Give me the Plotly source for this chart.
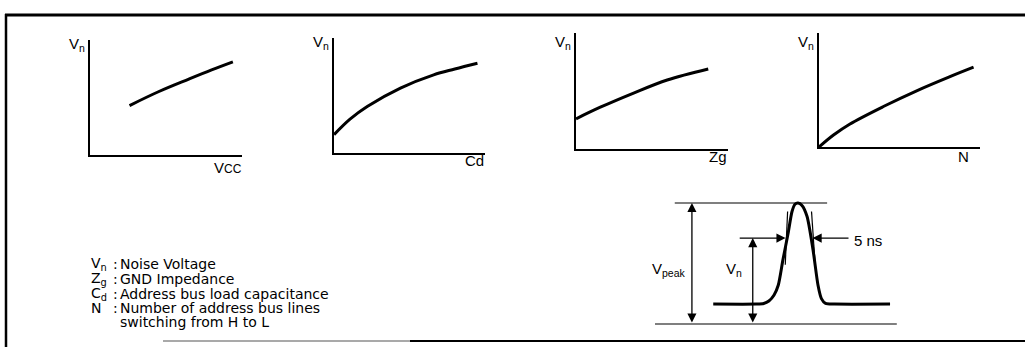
import plotly.graph_objects as go

W, H = 1025, 347

# ---- data ----
# panel 1: Vn vs Vcc
vcc_x = [2.6, 4.5, 6.5, 8.0, 9.4]
vcc_y = [4.3, 5.5, 6.6, 7.4, 8.1]
# panel 2: Vn vs Cd
cd_x = [0.0, 1.06, 2.2, 4.4, 6.6, 8.0, 9.5]
cd_y = [1.6, 2.95, 4.05, 5.65, 6.8, 7.3, 7.8]
# panel 3: Vn vs Zg
zg_x = [0.0, 1.6, 3.75, 6.0, 8.7]
zg_y = [2.6, 3.6, 4.8, 5.95, 6.9]
# panel 4: Vn vs N
n_x = [0.0, 0.9, 1.9, 4.0, 6.1, 8.1, 9.6]
n_y = [0.0, 1.05, 2.0, 3.55, 4.95, 6.15, 7.0]

# pulse (time in ns, voltage normalised to Vpeak)
pulse_t = [-16.3, -8.0, -6.6, -5.6, -4.6, -3.8, -2.9, -1.9, -1.15, -0.58, 0.0, 0.77, 1.73, 2.9, 3.85, 4.5, 5.3, 7.0, 17.7]
pulse_v = [0.165, 0.165, 0.17, 0.19, 0.24, 0.32, 0.53, 0.75, 0.93, 0.99, 1.0, 0.98, 0.89, 0.61, 0.32, 0.21, 0.17, 0.165, 0.165]
peak_line_t = [-23.7, 5.6]
ground_line_t = [-27.5, 19.0]
vn_level = 0.71
vn_arrow_t = -8.7
vpeak_arrow_t = -20.4
width_left_t = [-11.5, -2.4]
width_right_t = [10.0, 2.8]
tangent_left = ([-2.45, -2.0], [0.49, 0.93])
tangent_right = ([2.6, 3.3], [0.93, 0.49])

x_labels = ["V<span style='font-size:12px'>CC</span>", "Cd", "Zg", "N"]
legend_sym = ["V<sub>n</sub>", "Z<sub>g</sub>", "C<sub>d</sub>", "N", ""]
legend_txt = ["Noise Voltage", "GND Impedance", "Address bus load capacitance",
              "Number of address bus lines", "switching from H to L"]

FONT = "Liberation Sans, Arial, Helvetica, sans-serif"
LFONT = "DejaVu Sans, Liberation Sans, sans-serif"


def px(x):
    return x / W


def py(y):
    return 1 - y / H


# panel geometry in pixels: (left, right, top, bottom)
panels = [(90, 242, 40, 155), (334, 485, 38, 153), (576, 728, 33, 149), (819, 980, 33, 147)]
series = [(vcc_x, vcc_y), (cd_x, cd_y), (zg_x, zg_y), (n_x, n_y)]
vn_lab = [(87, 44), (331, 43), (573, 42), (816, 42)]
xl_lab = [(244, 167), (486, 161), (729, 157), (971, 156)]

fig = go.Figure()
layout = dict(width=W, height=H, margin=dict(l=0, r=0, t=0, b=0),
              paper_bgcolor="white", plot_bgcolor="rgba(0,0,0,0)",
              showlegend=False, font=dict(family=FONT, color="black", size=14))
annotations = []
shapes = []

for i, ((l, r, t, b), (sx, sy)) in enumerate(zip(panels, series), start=1):
    xa = "x" if i == 1 else f"x{i}"
    ya = "y" if i == 1 else f"y{i}"
    fig.add_trace(go.Scatter(x=sx, y=sy, mode="lines", xaxis=xa, yaxis=ya,
                             line=dict(color="black", width=3, shape="spline"),
                             hoverinfo="skip"))
    axcommon = dict(showgrid=False, zeroline=False, showticklabels=False, ticks="",
                    showline=True, linecolor="black", linewidth=1.5, range=[0, 10], fixedrange=True)
    layout[f"xaxis{'' if i == 1 else i}"] = dict(domain=[px(l), px(r)], anchor=ya, **axcommon)
    layout[f"yaxis{'' if i == 1 else i}"] = dict(domain=[py(b), py(t)], anchor=xa, **axcommon)
    annotations.append(dict(text="V<sub>n</sub>", x=px(vn_lab[i-1][0]), y=py(vn_lab[i-1][1]),
                            xref="paper", yref="paper", xanchor="right", yanchor="middle",
                            showarrow=False, font=dict(size=15)))
    annotations.append(dict(text=x_labels[i-1], x=px(xl_lab[i-1][0]), y=py(xl_lab[i-1][1]),
                            xref="paper", yref="paper", xanchor="right", yanchor="middle",
                            showarrow=False, font=dict(size=15)))

# pulse panel
fig.add_trace(go.Scatter(x=pulse_t, y=pulse_v, mode="lines", xaxis="x5", yaxis="y5",
                         line=dict(color="black", width=3, shape="spline", smoothing=0.7),
                         hoverinfo="skip"))
for lt, lv in [(peak_line_t, [1.0, 1.0]), (ground_line_t, [0.0, 0.0]), tangent_left, tangent_right]:
    fig.add_trace(go.Scatter(x=lt, y=lv, mode="lines", xaxis="x5", yaxis="y5",
                             line=dict(color="black", width=1.2), hoverinfo="skip"))

pulse_axis = dict(showgrid=False, zeroline=False, showticklabels=False, ticks="",
                  showline=False, fixedrange=True)
layout["xaxis5"] = dict(domain=[px(640), px(900)], anchor="y5",
                        range=[(640 - 798) / 5.2, (900 - 798) / 5.2], **pulse_axis)
layout["yaxis5"] = dict(domain=[py(340), py(190)], anchor="x5",
                        range=[(324 - 340) / 121, (324 - 190) / 121], **pulse_axis)

arrow = dict(xref="x5", yref="y5", axref="x5", ayref="y5", text="", showarrow=True,
             arrowcolor="black", arrowwidth=1.3, arrowhead=2, arrowsize=1.4)
# Vpeak double arrow
annotations.append(dict(x=vpeak_arrow_t, y=1.0, ax=vpeak_arrow_t, ay=0.0,
                        arrowside="end+start", startarrowhead=2, startarrowsize=1.4, **arrow))
# Vn double arrow
annotations.append(dict(x=vn_arrow_t, y=vn_level, ax=vn_arrow_t, ay=0.0,
                        arrowside="end+start", startarrowhead=2, startarrowsize=1.4, **arrow))
# 5 ns width arrows
annotations.append(dict(x=width_left_t[1], y=vn_level, ax=width_left_t[0], ay=vn_level, **arrow))
annotations.append(dict(x=width_right_t[1], y=vn_level, ax=width_right_t[0], ay=vn_level, **arrow))

annotations.append(dict(text="V<sub>peak</sub>", x=vpeak_arrow_t - 0.8, y=0.45, xref="x5", yref="y5",
                        xanchor="right", yanchor="middle", showarrow=False, font=dict(size=15)))
annotations.append(dict(text="V<sub>n</sub>", x=vn_arrow_t - 1.6, y=0.45, xref="x5", yref="y5",
                        xanchor="right", yanchor="middle", showarrow=False, font=dict(size=15)))
annotations.append(dict(text="5 ns", x=width_right_t[0] + 0.4, y=vn_level - 0.02, xref="x5", yref="y5",
                        xanchor="left", yanchor="middle", showarrow=False, font=dict(size=15)))

# legend text block
rows_y = [264, 279, 294, 308, 322]
for sym, txt, yy in zip(legend_sym, legend_txt, rows_y):
    if sym:
        annotations.append(dict(text=sym, x=px(89), y=py(yy), xref="paper", yref="paper",
                                xanchor="left", yanchor="middle", showarrow=False,
                                font=dict(size=14, family=LFONT)))
        annotations.append(dict(text=":", x=px(111), y=py(yy), xref="paper", yref="paper",
                                xanchor="left", yanchor="middle", showarrow=False,
                                font=dict(size=14, family=LFONT)))
    annotations.append(dict(text=txt, x=px(118), y=py(yy), xref="paper", yref="paper",
                            xanchor="left", yanchor="middle", showarrow=False,
                            font=dict(size=14, family=LFONT)))

# frame
shapes.append(dict(type="line", xref="paper", yref="paper", x0=px(5), x1=1, y0=py(15), y1=py(15),
                   line=dict(color="black", width=3)))
shapes.append(dict(type="line", xref="paper", yref="paper", x0=px(6), x1=px(6), y0=py(14), y1=0,
                   line=dict(color="black", width=2.5)))
shapes.append(dict(type="line", xref="paper", yref="paper", x0=px(163), x1=px(410), y0=py(341), y1=py(341),
                   line=dict(color="#555555", width=1.2)))
shapes.append(dict(type="line", xref="paper", yref="paper", x0=px(410), x1=1, y0=py(341), y1=py(341),
                   line=dict(color="black", width=2)))

layout["annotations"] = annotations
layout["shapes"] = shapes
fig.update_layout(**layout)
fig.write_html("out.html", config={"displayModeBar": False},
               post_script="document.body.style.margin='0px';")
